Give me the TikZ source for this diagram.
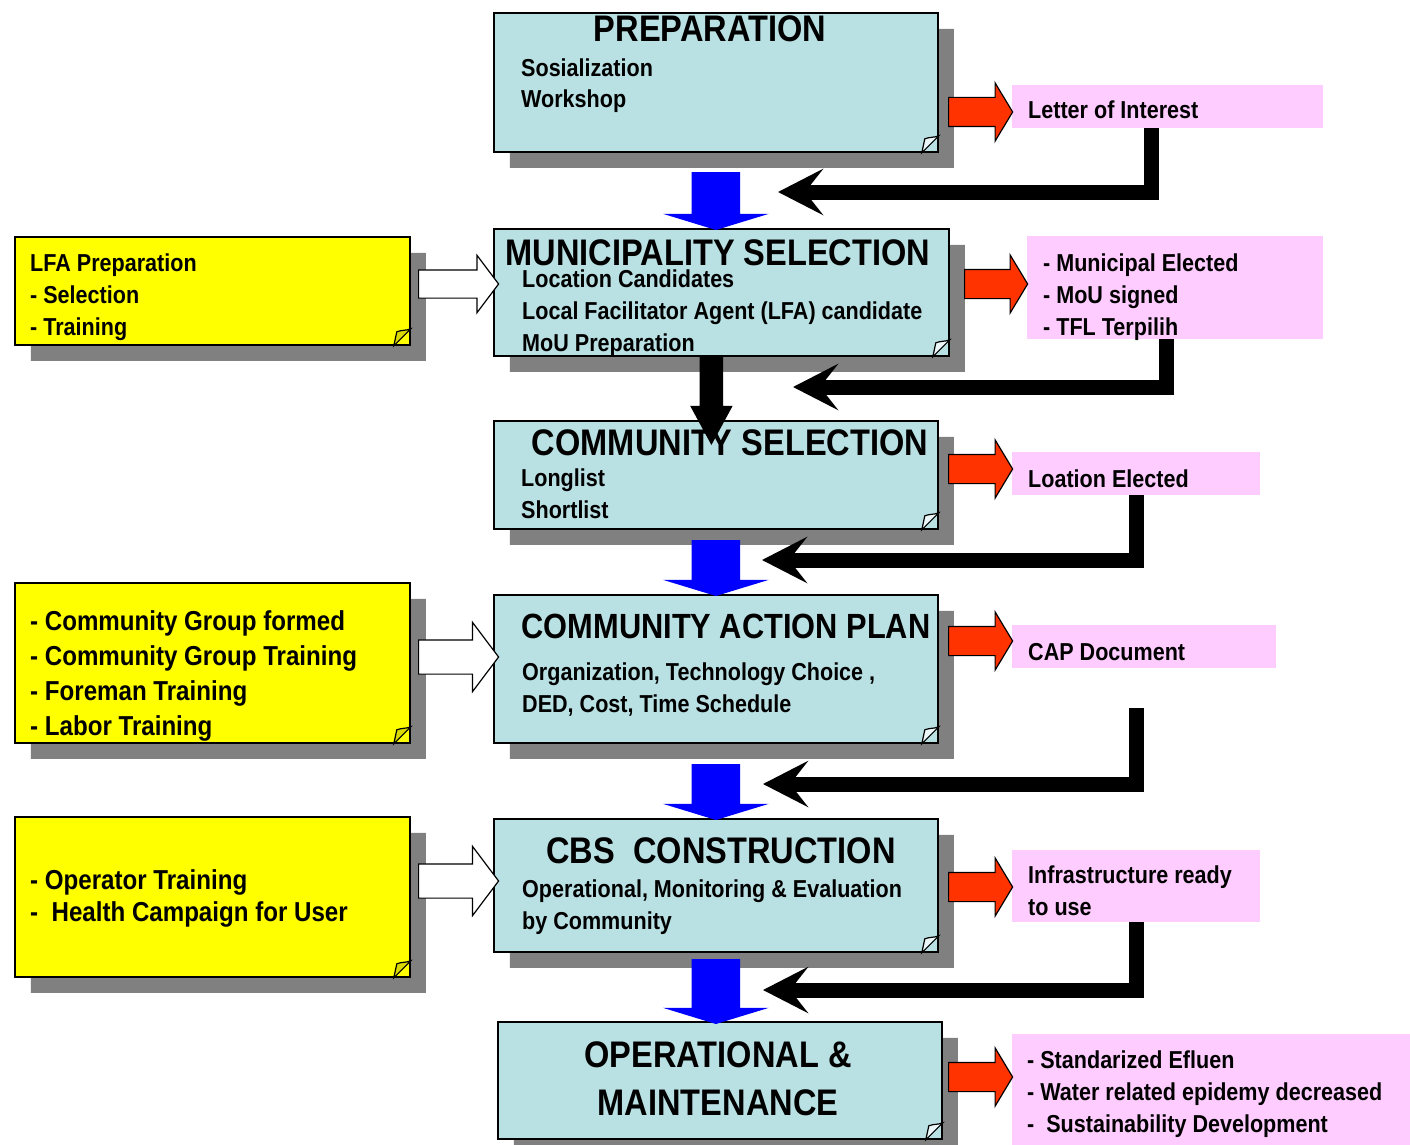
\documentclass[tikz,border=0pt]{standalone}
\usepackage{fontspec}
\setmainfont{Liberation Sans}[FakeStretch=0.88]
\usetikzlibrary{shapes.misc,shapes.arrows,shadows,arrows.meta,calc}

\definecolor{stageblue}{HTML}{B9E0E3}
\definecolor{noteyellow}{HTML}{FFFF00}
\definecolor{outpink}{HTML}{FFCCFF}
\definecolor{arrowred}{HTML}{FF3300}
\definecolor{shadowgray}{HTML}{808080}
\definecolor{flowblue}{HTML}{0000FF}

\tikzset{
  note/.style={chamfered rectangle, chamfered rectangle corners=south east,
    chamfered rectangle xsep=17pt, chamfered rectangle ysep=17pt,
    draw=black, line width=1.8, inner sep=0, anchor=north west,
    drop shadow={shadow xshift=16pt, shadow yshift=-16pt, fill=shadowgray, opacity=1}},
  stage/.style={note, fill=stageblue},
  input/.style={note, fill=noteyellow},
  output/.style={rectangle, fill=outpink, inner sep=0, anchor=north west},
  flap/.style={draw=black, line width=1.2},
  stagetitle/.style={font=\fontsize{37}{46}\selectfont\bfseries, inner sep=0, anchor=base},
  stageitem/.style={font=\fontsize{24.5}{32}\selectfont\bfseries, align=left, inner sep=0, anchor=base west},
  bigitem/.style={stageitem, font=\fontsize{27.4}{35}\selectfont\bfseries},
  redarrow/.style={single arrow, draw=black, line width=1.2, fill=arrowred, inner sep=14,
    minimum height=64, single arrow head extend=14.5,
    single arrow tip angle=118, anchor=tail},
  whitearrow/.style={single arrow, draw=black, line width=1.2, fill=white, inner sep=16.5,
    minimum height=80, single arrow head extend=17.5,
    single arrow tip angle=106, anchor=tail},
  bluearrow/.style={single arrow, fill=flowblue, inner sep=24, shape border rotate=270,
    minimum height=56, single arrow head extend=28.5,
    single arrow tip angle=146, anchor=tail},
  fbk/.style={draw=black, line width=15, -{Stealth[length=45pt,width=46pt,inset=18pt]}}
}

\begin{document}
\begin{tikzpicture}[x=1pt, y=-1pt]
  \useasboundingbox (0,0) rectangle (1410,1145);

  % stages
  \node[stage, minimum width=444, minimum height=139] (prep) at (493,12) {};
  \node[stage, minimum width=455, minimum height=127] (muni) at (493,228) {};
  \node[stage, minimum width=444, minimum height=108] (comm) at (493,420) {};
  \node[stage, minimum width=444, minimum height=148] (cap) at (493,594) {};
  \node[stage, minimum width=444, minimum height=133] (cbs) at (493,818) {};
  \node[stage, minimum width=444, minimum height=117] (om) at (497,1021) {};

  % inputs
  \node[input, minimum width=395, minimum height=108] (lfa) at (14,236) {};
  \node[input, minimum width=395, minimum height=160] (group) at (14,582) {};
  \node[input, minimum width=395, minimum height=160] (oper) at (14,816) {};

  % folded corners
  \foreach \b/\c in {prep/stageblue!30!white, muni/stageblue!30!white, comm/stageblue!30!white,
      cap/stageblue!30!white, cbs/stageblue!30!white, om/stageblue!30!white,
      lfa/noteyellow!85!black, group/noteyellow!85!black, oper/noteyellow!85!black}
    \filldraw[flap, fill=\c] ($(\b.south -| \b.east)+(-17,0)$) -- ++(3,-14)
      .. controls +(5,-2) and +(-5,2) .. ($(\b.south -| \b.east)+(0,-17)$) -- cycle;

  % outputs
  \node[output, minimum width=311, minimum height=43] (loi) at (1012,85) {};
  \node[output, minimum width=296, minimum height=103] (mou) at (1027,236) {};
  \node[output, minimum width=248, minimum height=43] (loc) at (1012,452) {};
  \node[output, minimum width=264, minimum height=43] (capdoc) at (1012,625) {};
  \node[output, minimum width=248, minimum height=72] (infra) at (1012,850) {};
  \node[output, minimum width=398, minimum height=111] (result) at (1012,1034) {};

  % block arrows
  \node[bluearrow, minimum height=58] (b1) at ($(prep.south)+(0,19)$) {};
  \node[bluearrow] (b2) at ($(comm.south)+(0,10)$) {};
  \node[bluearrow] (b3) at ($(cap.south)+(0,20)$) {};
  \node[bluearrow, minimum height=65] (b4) at ($(cbs.south)+(0,6)$) {};
  \node[single arrow, fill=black, inner sep=11.5, shape border rotate=270, anchor=tail,
    minimum height=88, single arrow head extend=9.5,
    single arrow tip angle=57] (down) at ($(muni.south)+(-10,0)$) {};

  \node[redarrow] (r1) at (948,112) {};
  \node[redarrow, minimum height=63] (r2) at (964,284) {};
  \node[redarrow] (r3) at (948,469) {};
  \node[redarrow] (r4) at (948,641) {};
  \node[redarrow] (r5) at (948,887) {};
  \node[redarrow] (r6) at (948,1077) {};

  \node[whitearrow, inner sep=13.5, single arrow head extend=14.5] (w1) at (418,284) {};
  \node[whitearrow] (w2) at (418,657) {};
  \node[whitearrow] (w3) at (418,881) {};

  % feedback back to the flow
  \coordinate (t1) at (778,192);
  \coordinate (t2) at (793,387);
  \coordinate (t3) at (762,560);
  \coordinate (t4) at (763,784);
  \coordinate (t5) at (763,990);
  \draw[fbk] ($(loi.south west)+(139,0)$) |- (t1);
  \draw[fbk] ($(mou.south west)+(139,0)$) |- (t2);
  \draw[fbk] ($(loc.south west)+(124,0)$) |- (t3);
  \draw[fbk] ($(capdoc.south west)+(124,40)$) |- (t4);
  \draw[fbk] ($(infra.south west)+(124,0)$) |- (t5);

  % texts (multi-line nodes sit on their last baseline)
  \node[stagetitle] (prep-t) at (710,42) {PREPARATION};
  \node[stageitem] (prep-i) at (521,108) {Sosialization\\Workshop};
  \node[stagetitle] (muni-t) at (718,265) {MUNICIPALITY SELECTION};
  \node[stageitem] (muni-i) at (522,351) {Location Candidates\\Local Facilitator Agent (LFA) candidate\\MoU Preparation};
  \node[stagetitle] (comm-t) at (730,455) {COMMUNITY SELECTION};
  \node[stageitem] (comm-i) at (521,518) {Longlist\\Shortlist};
  \node[stagetitle, font=\fontsize{35}{44}\selectfont\bfseries] (cap-t) at (726,638) {COMMUNITY ACTION PLAN};
  \node[stageitem] (cap-i) at (522,712) {Organization, Technology Choice ,\\DED, Cost, Time Schedule};
  \node[stagetitle] (cbs-t) at (721,863) {CBS\ \ CONSTRUCTION};
  \node[stageitem] (cbs-i) at (522,929) {Operational, Monitoring \& Evaluation\\by Community};
  \node[stagetitle] (om-t1) at (718,1067) {OPERATIONAL \&};
  \node[stagetitle] (om-t2) at (718,1115) {MAINTENANCE};

  \node[stageitem] (lfa-i) at (30,335) {LFA Preparation\\- Selection\\- Training};
  \node[bigitem] (group-i) at (30,735) {- Community Group formed\\- Community Group Training\\- Foreman Training\\- Labor Training};
  \node[bigitem, font=\fontsize{27.4}{32}\selectfont\bfseries] (oper-i) at (30,921) {- Operator Training\\-\ \ Health Campaign for User};

  \node[stageitem] (loi-t) at (1028,118) {Letter of Interest};
  \node[stageitem] (mou-t) at (1043,335) {- Municipal Elected\\- MoU signed\\- TFL Terpilih};
  \node[stageitem] (loc-t) at (1028,487) {Loation Elected};
  \node[stageitem] (capdoc-t) at (1028,660) {CAP Document};
  \node[stageitem] (infra-t) at (1028,915) {Infrastructure ready\\to use};
  \node[stageitem] (result-t) at (1027,1132) {- Standarized Efluen\\- Water related epidemy decreased\\-\ \ Sustainability Development};
\end{tikzpicture}
\end{document}
